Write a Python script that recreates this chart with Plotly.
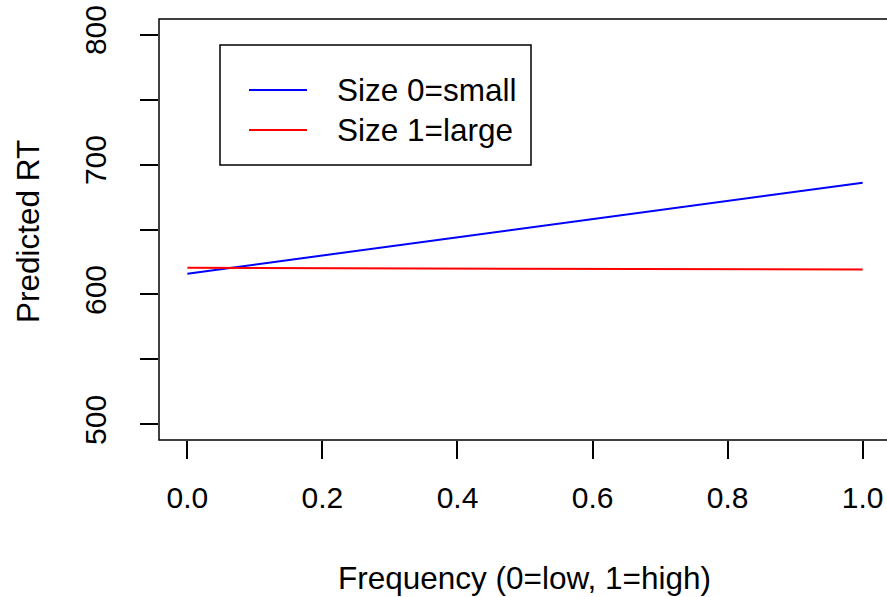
import plotly.graph_objects as go

# Data
freq = [0.0, 1.0]
rt_small = [616.0, 686.0]
rt_large = [620.5, 619.2]
series_names = ["Size 0=small", "Size 1=large"]
series_colors = ["#0000FF", "#FF0000"]
x_tickvals = [0.0, 0.2, 0.4, 0.6, 0.8, 1.0]
x_ticktext = ["0.0", "0.2", "0.4", "0.6", "0.8", "1.0"]
y_tickvals = [500, 550, 600, 650, 700, 750, 800]
y_ticktext = ["500", "", "600", "", "700", "", "800"]

W, H = 887, 597
L, R, T, B = 159, 0, 19, 157
pw, ph = W - L - R, H - T - B
FONT = "Liberation Sans, Arial, sans-serif"
FS = 30
FS_TXT = 31.5

def px(xp):
    return (xp - L) / pw

def py(yp):
    return (H - B - yp) / ph

fig = go.Figure()
for ys, name, col in zip([rt_small, rt_large], series_names, series_colors):
    fig.add_trace(go.Scatter(x=freq, y=ys, mode="lines", name=name,
                             line=dict(color=col, width=2), showlegend=False,
                             hoverinfo="skip"))

fig.update_layout(
    width=W, height=H,
    margin=dict(l=L, r=R, t=T, b=B, pad=0),
    paper_bgcolor="white", plot_bgcolor="white",
    font=dict(family=FONT, size=FS, color="black"),
    xaxis=dict(range=[-0.042, 1.036], tickvals=x_tickvals, ticktext=x_ticktext,
               ticks="outside", ticklen=18, tickwidth=1.5, tickcolor="black",
               showgrid=False, zeroline=False, showline=False,
               ticklabelstandoff=13, tickfont=dict(size=FS)),
    yaxis=dict(range=[488, 812], tickvals=y_tickvals, ticktext=y_ticktext,
               ticks="outside", ticklen=18, tickwidth=1.5, tickcolor="black",
               showgrid=False, zeroline=False, showline=False, tickangle=-90,
               ticklabelstandoff=22, tickfont=dict(size=FS)),
)

shapes = [
    # plot box (right side extends beyond the window)
    dict(type="rect", xref="paper", yref="paper", x0=0, x1=1.05, y0=0, y1=1,
         line=dict(color="black", width=1.5)),
    # legend box
    dict(type="rect", xref="paper", yref="paper", x0=px(220), x1=px(531),
         y0=py(165), y1=py(45), line=dict(color="black", width=1.5),
         fillcolor="white"),
]
ann = []
for yy, name, col in zip([90, 130], series_names, series_colors):
    shapes.append(dict(type="line", xref="paper", yref="paper", x0=px(249), x1=px(307),
                       y0=py(yy), y1=py(yy), line=dict(color=col, width=2)))
    ann.append(dict(xref="paper", yref="paper", x=px(335), y=py(yy), text=name,
                    showarrow=False, xanchor="left", yanchor="middle",
                    font=dict(size=FS_TXT)))

ann.append(dict(xref="paper", yref="paper", x=px(524), y=py(578),
                text="Frequency (0=low, 1=high)", showarrow=False,
                xanchor="center", yanchor="middle", font=dict(size=FS_TXT)))
ann.append(dict(xref="paper", yref="paper", x=px(28), y=py(232),
                text="Predicted RT", showarrow=False, textangle=-90,
                xanchor="center", yanchor="middle", font=dict(size=FS_TXT)))

fig.update_layout(shapes=shapes, annotations=ann)
fig.write_html("out.html", config={"displayModeBar": False},
               post_script="document.body.style.margin='0';document.body.style.padding='0';")
